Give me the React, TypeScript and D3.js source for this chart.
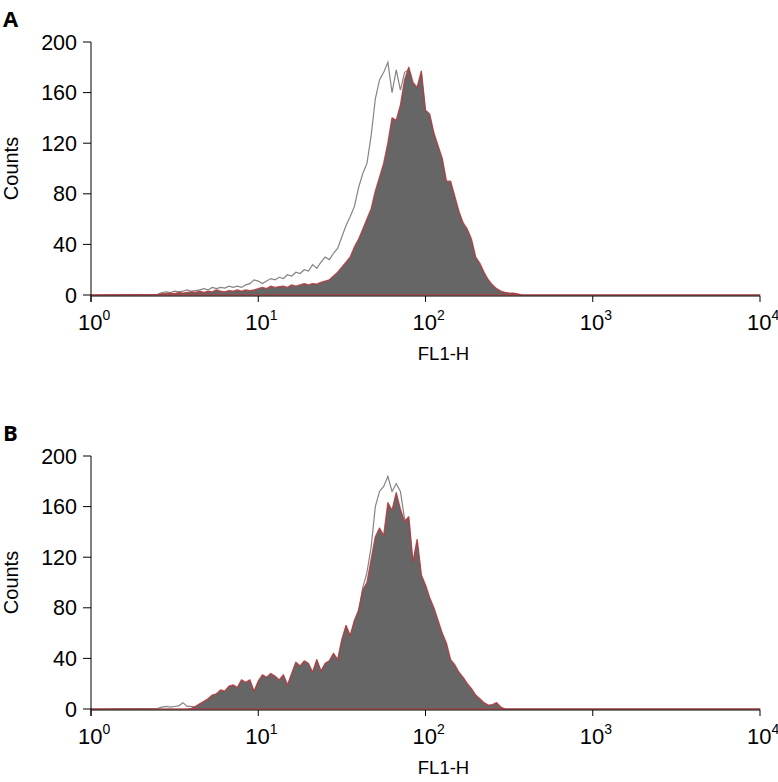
import React from 'react';
import * as d3 from 'd3';

// histogram channels: log10 position of first bin and bin width (decades)
const binStart = 0.4;
const binWidth = 0.025;

// Panel A
const filledA = [0.5,1,1,1.5,1,2,1.5,2,2.5,2, 3,2,3,2.5,4,3,2.5,3.5,3,4, 3,4,3.5,4,5,6,5,7,6,6.5,
  7,6,8,7,8,9,8,9,8.5,10, 11,12,15,18,22,26,30,38,44,52, 60,68,82,93,104,120,140,138,150,170,
  180,168,164,177,146,143,128,118,108,90, 90,78,66,57,52,44,30,25,18,12, 8,5,3,2,1.5,1.5,0.8,0];
const openA = [0.5,2,2.5,2,3,2.5,3,4,3,3.5, 4,5,4,6,5,6,5.5,7,6,7, 6,8,9,12,11,9,11,13,12,14,
  13,16,15,18,17,20,19,24,21,26, 30,28,33,37,46,55,62,70,85,96, 104,126,155,170,176,184,160,178,162,176,
  178,166,162,175,144,141,126,116,106,88, 88,76,64,55,50,42,28,23,16,10, 6,4,2,1.5,1,1,0.5,0];

// Panel B
const filledB = [0,0,0,0,0,0,0,0,0.5,2, 4,6,8,11,12,15,14,18,19,17, 23,21,23,14,22,27,25,28,26,23,
  27,19,28,37,34,38,36,29,39,30, 36,38,44,39,55,66,58,70,78,94, 100,118,136,143,137,163,157,171,158,148,
  152,116,134,106,98,88,80,70,60,52, 39,35,29,25,20,16,11,8,5,3, 3.5,5,1.5,0];
const openB = [0.5,1.5,2,1.5,2,2.5,5,2,2,1.5, 3.5,5.5,7.5,10,11,14,13,17,18,16, 22,20,22,13,21,26,24,27,25,22,
  26,18,27,36,33,37,35,28,38,29, 35,37,43,38,54,65,57,69,77,96, 108,128,160,172,176,184,172,178,172,150,
  150,114,132,104,96,86,78,68,58,50, 37,33,27,23,18,14,9,6,3,2, 2,3,0.5,0];

const yTicks = [0, 40, 80, 120, 160, 200];
const xDecades = [0, 1, 2, 3, 4];

const font = '"Liberation Sans", Arial, sans-serif';

type Pt = { log: number; c: number };

function toPoints(counts: number[]): Pt[] {
  const pts: Pt[] = [{ log: 0, c: 0 }];
  counts.forEach((c, i) => pts.push({ log: binStart + i * binWidth, c }));
  pts.push({ log: 4, c: 0 });
  return pts;
}

function Panel({ top, label, filled, open }: { top: number; label: string; filled: number[]; open: number[] }) {
  const x = d3.scaleLog().domain([1, 1e4]).range([91, 760]);
  const y = d3.scaleLinear().domain([0, 200]).range([top + 253, top]);
  const base = y(0) + 1;

  const line = d3.line<Pt>().x(d => x(10 ** d.log)).y(d => y(d.c));
  const area = d3.area<Pt>().x(d => x(10 ** d.log)).y0(y(0)).y1(d => y(d.c));

  const fPts = toPoints(filled);
  const oPts = toPoints(open);

  return (
    <g>
      <text x={3} y={top - 15} fontFamily='"Open Sans", sans-serif' fontWeight="bold" fontSize={22}>{label}</text>
      <path d={line(oPts) || ''} fill="none" stroke="#858585" strokeWidth={1.2} />
      <path d={area(fPts) || ''} fill="#666666" stroke="#b33a3e" strokeOpacity={0.85} strokeWidth={1.4} strokeLinejoin="round" />

      {/* y axis */}
      <line x1={91} x2={91} y1={top} y2={base + 6} stroke="#000" strokeWidth={1} />
      {yTicks.map(t => (
        <g key={t}>
          <line x1={83} x2={91} y1={y(t)} y2={y(t)} stroke="#000" />
          <text x={77} y={y(t) + 7.5} textAnchor="end" fontFamily={font} fontSize={21.5}>{t}</text>
        </g>
      ))}
      <text transform={`translate(18,${(y(0) + y(200)) / 2}) rotate(-90)`} textAnchor="middle" fontFamily={font} fontSize={20}>Counts</text>

      {/* x axis */}
      <line x1={91} x2={760} y1={base} y2={base} stroke="#000" strokeWidth={1} />
      {xDecades.map(k => (
        <g key={k}>
          <line x1={x(10 ** k)} x2={x(10 ** k)} y1={base} y2={base + 6} stroke="#000" />
          <text x={x(10 ** k) - 13} y={base + 34} fontFamily={font} fontSize={22}>
            10<tspan fontSize={14} dy={-10}>{k}</tspan>
          </text>
        </g>
      ))}
      <text x={(x(1) + x(1e4)) / 2 + 18} y={base + 64} textAnchor="middle" fontFamily={font} fontSize={18.5}>FL1-H</text>
    </g>
  );
}

export default function App() {
  return (
    <svg width={778} height={782} style={{ position: 'absolute', left: 0, top: 0, background: '#fff' }}>
      <Panel top={42} label="A" filled={filledA} open={openA} />
      <Panel top={456} label="B" filled={filledB} open={openB} />
    </svg>
  );
}
